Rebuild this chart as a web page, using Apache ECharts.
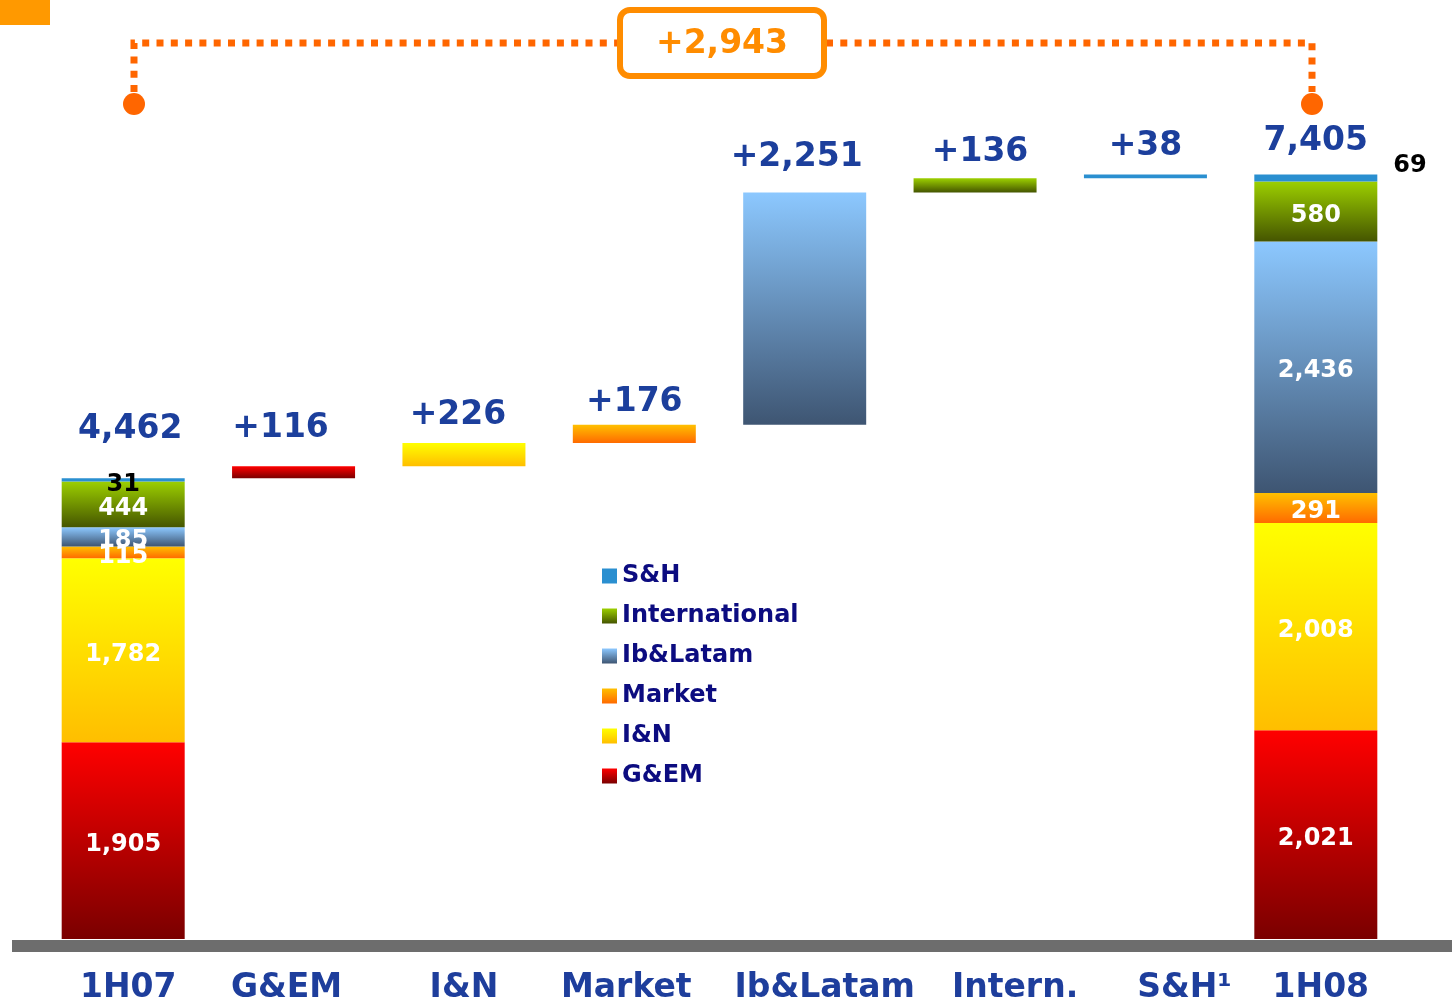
<!DOCTYPE html>
<html>
<head>
<meta charset="utf-8">
<script src="https://cdn.jsdelivr.net/npm/echarts@6/dist/echarts.min.js"></script>
<style>
  html, body { margin: 0; padding: 0; background: #fff; }
  #main { width: 1452px; height: 1005px; }
</style>
</head>
<body>
<div id="main"></div>
<script>
// categories on the x axis
var categories = ['1H07', 'G&EM', 'I&N', 'Market', 'Ib&Latam', 'Intern.', 'S&H\u00b9', '1H08'];

// segment values per category ('-' = nothing in that column)
var gemValues    = [1905, 116, '-', '-', '-', '-', '-', 2021];
var inValues     = [1782, '-', 226, '-', '-', '-', '-', 2008];
var marketValues = [115, '-', '-', 176, '-', '-', '-', 291];
var ibValues     = [185, '-', '-', '-', 2251, '-', '-', 2436];
var intlValues   = [444, '-', '-', '-', '-', 136, '-', 580];
var shValues     = [31, '-', '-', '-', '-', '-', 38, 69];

// labels above each column
var topTexts = ['4,462', '+116', '+226', '+176', '+2,251', '+136', '+38', '7,405'];
var totalChange = '+2,943';

// invisible base under the floating bars (running total of the columns before)
var allSeries = [gemValues, inValues, marketValues, ibValues, intlValues, shValues];
function colSum(i) {
  var s = 0;
  allSeries.forEach(function (arr) { if (arr[i] !== '-') s += arr[i]; });
  return s;
}
var baseValues = [];
var topValues = [];
var run = 0;
categories.forEach(function (c, i) {
  var isTotal = (i === 0 || i === categories.length - 1);
  if (isTotal) {
    baseValues.push(0);
    topValues.push(colSum(i));
    run = colSum(i);
  } else {
    baseValues.push(run);
    run += colSum(i);
    topValues.push(run);
  }
});

function grad(c1, c2) {
  return { type: 'linear', x: 0, y: 0, x2: 0, y2: 1,
    colorStops: [{ offset: 0, color: c1 }, { offset: 1, color: c2 }] };
}

var FONT = 'DejaVu Sans';
var segLabel = { show: false, position: 'inside', offset: [0, 4], color: '#fff', fontFamily: FONT,
  fontWeight: 'bold', fontSize: 24,
  formatter: function (p) { return Number(p.value).toLocaleString('en-US'); } };

// which columns show their segment values
function segData(arr, special) {
  return arr.map(function (v, i) {
    if (v === '-') return v;
    var item = { value: v };
    if (i === 0 || i === arr.length - 1) {
      item.label = { show: true };
      if (special && special[i]) item.label = Object.assign({ show: true }, special[i]);
    }
    return item;
  });
}

function segSeries(name, arr, color, special) {
  return {
    name: name, type: 'bar', stack: 'w', barWidth: 123,
    itemStyle: { color: color },
    label: segLabel,
    data: segData(arr, special)
  };
}

// small nudges so the texts sit where the original slide put them
var labelLift = [49, 38, 28, 22, 35, 26, 28, 33];
var labelShiftX = [7, -13, -6, 0, -8, 5, 0, 0];
var catShiftX = [5, -7, 0, -8, 20, 40, 39, 5];

var myChart = echarts.init(document.getElementById('main'));
var option = {
  animation: false,
  grid: { left: 38, right: 51, top: 113, bottom: 64 },
  xAxis: {
    type: 'category',
    data: categories.map(function (c, i) {
      var s = catShiftX[i];
      return { value: c, textStyle: { padding: s >= 0 ? [0, 0, 0, 2 * s] : [0, -2 * s, 0, 0] } };
    }),
    axisLine: { show: false }, axisTick: { show: false },
    axisLabel: { interval: 0, color: '#1e3e9c', fontFamily: FONT, fontWeight: 'bold', fontSize: 33, margin: 33 }
  },
  yAxis: { type: 'value', min: 0, max: 8000, show: false, splitLine: { show: false } },
  legend: {
    orient: 'vertical', left: 597, top: 558, itemGap: 14,
    itemWidth: 15, itemHeight: 15, icon: 'rect',
    data: ['S&H', 'International', 'Ib&Latam', 'Market', 'I&N', 'G&EM'],
    textStyle: { color: '#0c0c80', fontFamily: FONT, fontWeight: 'bold', fontSize: 24,
      lineHeight: 26 }
  },
  series: [
    { name: 'base', type: 'bar', stack: 'w', barWidth: 123, silent: true,
      itemStyle: { color: 'transparent' }, data: baseValues },
    segSeries('G&EM', gemValues, grad('#ff0000', '#7a0000')),
    segSeries('I&N', inValues, grad('#ffff00', '#ffbe00')),
    segSeries('Market', marketValues, grad('#ffc000', '#ff6a00')),
    segSeries('Ib&Latam', ibValues, grad('#8cc8ff', '#3e5572')),
    segSeries('International', intlValues, grad('#9ccf00', '#455500')),
    segSeries('S&H', shValues, '#2a8fd0', {
      0: { color: '#000', position: 'inside', offset: [0, 5] },
      7: { color: '#000', position: 'right', distance: 16, offset: [0, -12] }
    }),
    { name: 'tops', type: 'scatter', symbolSize: 1, silent: true, z: 10,
      itemStyle: { color: 'rgba(0,0,0,0)', opacity: 1 },
      data: topValues.map(function (v, i) {
        return { value: v, label: { show: true, position: 'inside',
          offset: [labelShiftX[i], -labelLift[i]],
          opacity: 1, formatter: topTexts[i], color: '#1c3f9c', fontFamily: FONT,
          fontWeight: 'bold', fontSize: 33 } };
      })
    }
  ],
  graphic: [
    { type: 'rect', left: 0, top: 0, shape: { width: 50, height: 25 }, style: { fill: '#ff9900' } },
    { type: 'rect', shape: { x: 12, y: 940, width: 1440, height: 12 }, style: { fill: '#6d6d6d' } },
    { type: 'polyline', shape: { points: [[134, 92], [134, 43], [617, 43]] },
      style: { stroke: '#ff6600', lineWidth: 7, lineDash: [7, 7.3], fill: null } },
    { type: 'polyline', shape: { points: [[826, 43], [1312, 43], [1312, 92]] },
      style: { stroke: '#ff6600', lineWidth: 7, lineDash: [7, 7.3], fill: null } },
    { type: 'circle', shape: { cx: 134, cy: 104, r: 11 }, style: { fill: '#ff6600' } },
    { type: 'circle', shape: { cx: 1312, cy: 104, r: 11 }, style: { fill: '#ff6600' } },
    { type: 'rect', shape: { x: 620, y: 10, width: 204, height: 66, r: 10 },
      style: { fill: '#fff', stroke: '#ff8c00', lineWidth: 6 } },
    { type: 'text', x: 722, y: 44,
      style: { text: totalChange, fill: '#ff8c00', font: 'bold 33px "DejaVu Sans"',
        textAlign: 'center', textVerticalAlign: 'middle' } }
  ]
};
myChart.setOption(option);
</script>
</body>
</html>
